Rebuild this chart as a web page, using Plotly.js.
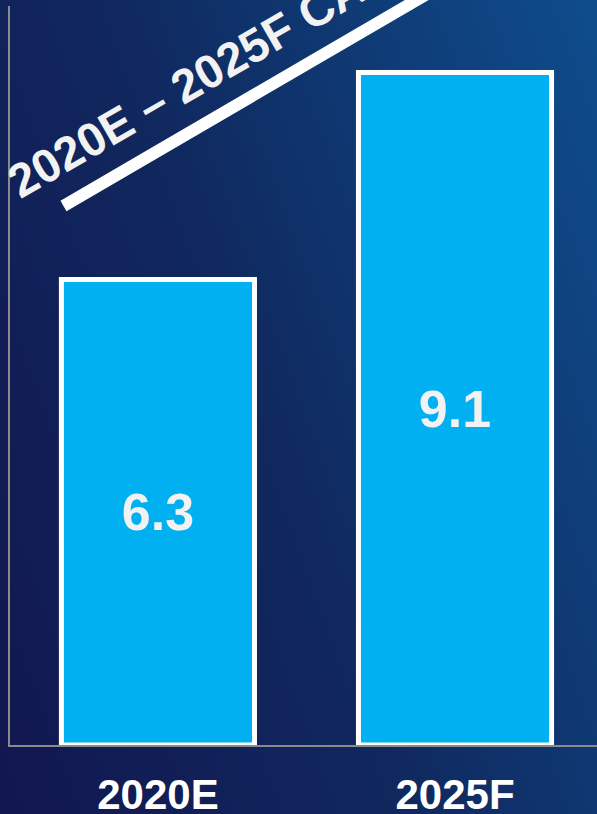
<!DOCTYPE html>
<html>
<head>
<meta charset="utf-8">
<script src="https://cdn.plot.ly/plotly-3.0.1.min.js"></script>
<style>
html, body { margin: 0; padding: 0; width: 597px; height: 814px; overflow: hidden; }
body { background: linear-gradient(70deg, #121650 0%, #10285e 45%, #0e4d8c 100%); }
#chart { width: 597px; height: 814px; }
</style>
</head>
<body>
<div id="chart"></div>
<script>
const categories = ["2020E", "2025F"];
const values = [6.3, 9.1];
const valueLabels = ["6.3", "9.1"];
const cagrLabel = "2020E – 2025F CAGR";

const FONT = "Liberation Sans, Arial, sans-serif";

const trace = {
  type: "bar",
  x: categories,
  y: values,
  text: valueLabels,
  textposition: "inside",
  insidetextanchor: "middle",
  textangle: 0,
  textfont: { family: FONT, size: 52, color: "#f2f2f2", weight: 700 },
  width: 0.65,
  marker: { color: "#00b0f0", line: { color: "#ffffff", width: 5 } },
  hoverinfo: "none"
};

const layout = {
  width: 597,
  height: 814,
  margin: { l: 10, r: 0, t: 6, b: 69, pad: 0 },
  paper_bgcolor: "rgba(0,0,0,0)",
  plot_bgcolor: "rgba(0,0,0,0)",
  showlegend: false,
  xaxis: {
    type: "category",
    range: [-0.498, 1.478],
    showline: true,
    linecolor: "#8a8a8a",
    linewidth: 2,
    showgrid: false,
    zeroline: false,
    ticks: "",
    layer: "below traces",
    tickfont: { family: FONT, size: 42, color: "#ffffff", weight: 700 },
    ticklabelstandoff: 12
  },
  yaxis: {
    range: [0, 10],
    showline: true,
    linecolor: "#8a8a8a",
    linewidth: 2,
    showgrid: false,
    zeroline: false,
    showticklabels: false,
    ticks: "",
    layer: "below traces"
  },
  shapes: [{
    type: "line",
    xref: "paper", yref: "paper",
    x0: 0.0911, y0: 0.7294, x1: 0.818, y1: 1.066,
    line: { color: "#ffffff", width: 12 }
  }],
  annotations: [{
    xref: "paper", yref: "paper",
    x: 0.3526, y: 0.9188,
    xanchor: "center", yanchor: "middle",
    text: cagrLabel,
    textangle: -30,
    showarrow: false,
    font: { family: FONT, size: 47, color: "#f2f2f2", weight: 700 }
  }]
};

Plotly.newPlot("chart", [trace], layout, { displayModeBar: false, staticPlot: true });
</script>
</body>
</html>
